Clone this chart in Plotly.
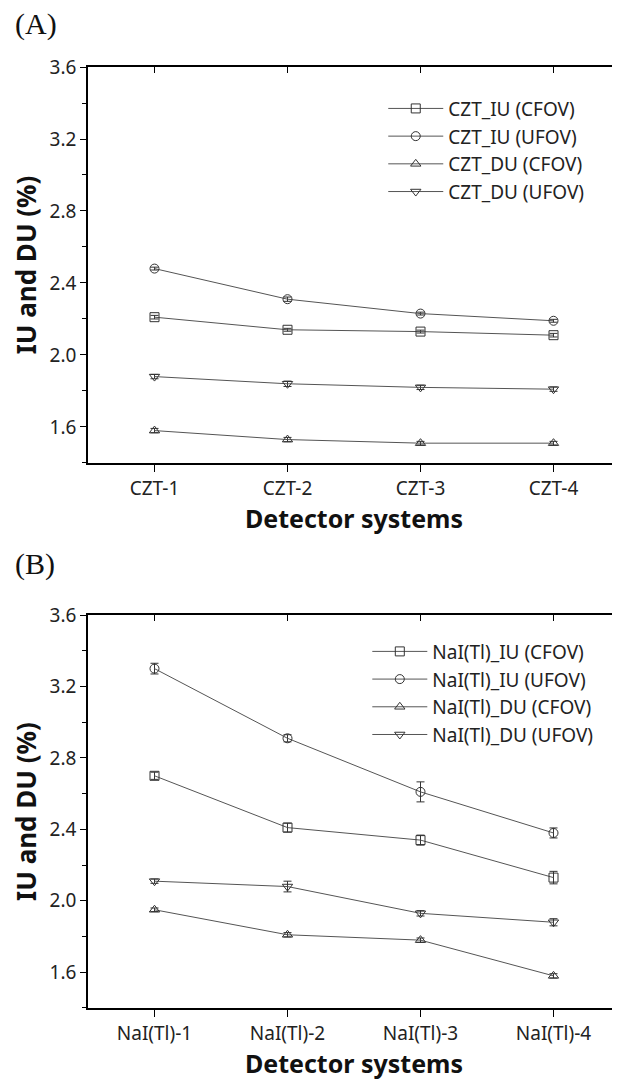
import plotly.graph_objects as go

# ---------------- data ----------------
czt_labels = ["CZT-1", "CZT-2", "CZT-3", "CZT-4"]
nai_labels = ["NaI(Tl)-1", "NaI(Tl)-2", "NaI(Tl)-3", "NaI(Tl)-4"]

czt_names = ["CZT_IU (CFOV)", "CZT_IU (UFOV)", "CZT_DU (CFOV)", "CZT_DU (UFOV)"]
nai_names = ["NaI(Tl)_IU (CFOV)", "NaI(Tl)_IU (UFOV)", "NaI(Tl)_DU (CFOV)", "NaI(Tl)_DU (UFOV)"]

czt_iu_cfov = [2.21, 2.14, 2.13, 2.11]
czt_iu_ufov = [2.48, 2.31, 2.23, 2.19]
czt_du_cfov = [1.58, 1.53, 1.51, 1.51]
czt_du_ufov = [1.88, 1.84, 1.82, 1.81]
czt_iu_cfov_err = [0.010, 0.008, 0.008, 0.010]
czt_iu_ufov_err = [0.008, 0.012, 0.008, 0.008]
czt_du_cfov_err = [0.012, 0.012, 0.010, 0.010]
czt_du_ufov_err = [0.012, 0.015, 0.012, 0.012]

nai_iu_cfov = [2.70, 2.41, 2.34, 2.13]
nai_iu_ufov = [3.30, 2.91, 2.61, 2.38]
nai_du_cfov = [1.95, 1.81, 1.78, 1.58]
nai_du_ufov = [2.11, 2.08, 1.93, 1.88]
nai_iu_cfov_err = [0.020, 0.025, 0.028, 0.035]
nai_iu_ufov_err = [0.030, 0.020, 0.056, 0.028]
nai_du_cfov_err = [0.010, 0.012, 0.012, 0.012]
nai_du_ufov_err = [0.012, 0.030, 0.015, 0.020]

symbols = ["square-open", "circle-open", "triangle-up-open", "triangle-down-open"]

FONT = "Noto Sans"
LINE_C = "#555555"
MARK_C = "#333333"

fig = go.Figure()

def add_series(xs, ys, errs, name, sym, xa, ya, leg):
    fig.add_trace(go.Scatter(
        x=xs, y=ys, name=name, mode="lines+markers",
        xaxis=xa, yaxis=ya, legend=leg,
        line=dict(color=LINE_C, width=1),
        marker=dict(symbol=sym, size=9, color=MARK_C, line=dict(width=1, color=MARK_C)),
        error_y=dict(type="data", array=errs, visible=True, color=MARK_C, thickness=1, width=4),
    ))

czt_vals = [czt_iu_cfov, czt_iu_ufov, czt_du_cfov, czt_du_ufov]
czt_errs = [czt_iu_cfov_err, czt_iu_ufov_err, czt_du_cfov_err, czt_du_ufov_err]
nai_vals = [nai_iu_cfov, nai_iu_ufov, nai_du_cfov, nai_du_ufov]
nai_errs = [nai_iu_cfov_err, nai_iu_ufov_err, nai_du_cfov_err, nai_du_ufov_err]

for v, e, n, s in zip(czt_vals, czt_errs, czt_names, symbols):
    add_series(czt_labels, v, e, n, s, "x", "y", "legend")
for v, e, n, s in zip(nai_vals, nai_errs, nai_names, symbols):
    add_series(nai_labels, v, e, n, s, "x2", "y2", "legend2")

# invisible traces so the mirrored (top/right) frame axes are drawn
fig.add_trace(go.Scatter(x=czt_labels, y=czt_iu_cfov, xaxis="x3", yaxis="y3", mode="lines",
                         line=dict(width=0), opacity=0, hoverinfo="skip", showlegend=False))
fig.add_trace(go.Scatter(x=nai_labels, y=nai_iu_cfov, xaxis="x4", yaxis="y4", mode="lines",
                         line=dict(width=0), opacity=0, hoverinfo="skip", showlegend=False))

YR = [1.4, 3.6]
XR = [-0.5, 3.5]
dA = [0.5792, 1.0]
dB = [0.0, 0.4176]

def xmain(anchor):
    return dict(anchor=anchor, domain=[0, 1], range=XR, type="category", automargin=False,
                showline=True, linecolor="black", linewidth=1.5,
                ticks="outside", ticklen=7, tickwidth=1.2, tickcolor="black",
                tickfont=dict(family=FONT, size=19, color="#222"),
                showgrid=False, zeroline=False,
                title=dict(text="<b>Detector systems</b>", font=dict(family=FONT, size=25, color="#111"), standoff=3))

def ymain(anchor, dom):
    return dict(anchor=anchor, domain=dom, range=YR, tick0=0, dtick=0.4, tickformat=".1f", automargin=False,
                showline=True, linecolor="black", linewidth=1.5,
                ticks="outside", ticklen=6, tickwidth=1.2, tickcolor="black",
                minor=dict(dtick=0.2, ticks="outside", ticklen=4, tickwidth=1.2, tickcolor="black"),
                tickfont=dict(family=FONT, size=19, color="#222"),
                showgrid=False, zeroline=False,
                title=dict(text="<b>IU and DU (%)</b>", font=dict(family=FONT, size=26, color="#111"), standoff=10))

def xtop(over, anchor):
    return dict(overlaying=over, anchor=anchor, side="top", range=XR, type="category", automargin=False,
                showline=True, linecolor="black", linewidth=1.5,
                ticks="inside", ticklen=6, tickwidth=1.2, tickcolor="black",
                showticklabels=False, showgrid=False, zeroline=False)

def yright(over, anchor):
    return dict(overlaying=over, anchor=anchor, side="right", range=YR, tick0=0, dtick=0.2, automargin=False,
                showline=False, ticks="inside", ticklen=5, tickwidth=1.2, tickcolor="black",
                showticklabels=False, showgrid=False, zeroline=False)

leg_font = dict(family=FONT, size=19, color="#222")

# the page body adds an 8px offset, so the figure is sized to fit the 620x1082 window
fig.update_layout(
    width=612, height=1074,
    margin=dict(l=80, r=0, t=59, b=74, autoexpand=False),
    paper_bgcolor="white", plot_bgcolor="white",
    font=dict(family=FONT, color="#222"),
    xaxis=xmain("y"), yaxis=ymain("x", dA),
    xaxis2=xmain("y2"), yaxis2=ymain("x2", dB),
    xaxis3=xtop("x", "y"), yaxis3=yright("y", "x"),
    xaxis4=xtop("x2", "y2"), yaxis4=yright("y2", "x2"),
    legend=dict(x=0.555, y=0.976, xanchor="left", yanchor="top",
                bgcolor="rgba(0,0,0,0)", font=leg_font, itemwidth=55, tracegroupgap=0),
    legend2=dict(x=0.525, y=0.399, xanchor="left", yanchor="top",
                 bgcolor="rgba(0,0,0,0)", font=leg_font, itemwidth=55, tracegroupgap=0),
    showlegend=True,
    annotations=[
        dict(text="(A)", xref="paper", yref="paper", x=-0.14, y=1.046, xanchor="left", yanchor="middle",
             borderpad=0, showarrow=False, font=dict(family="Liberation Serif", size=30, color="#111")),
        dict(text="(B)", xref="paper", yref="paper", x=-0.14, y=0.472, xanchor="left", yanchor="middle",
             borderpad=0, showarrow=False, font=dict(family="Liberation Serif", size=30, color="#111")),
    ],
)

fig.write_html("out.html")
